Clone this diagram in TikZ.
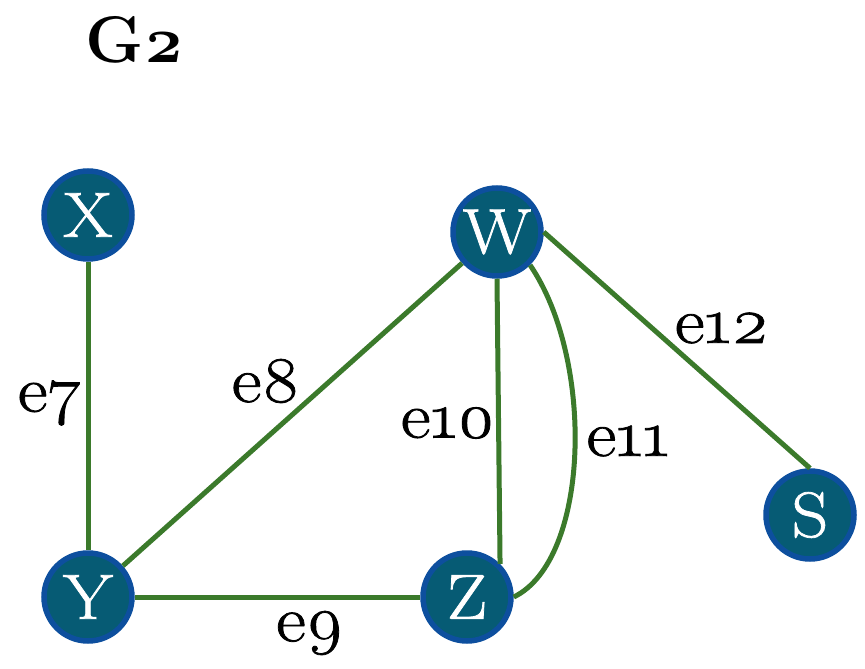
\documentclass[tikz,border=0pt]{standalone}
\usepackage{fontspec}
\setmainfont[Numbers=OldStyle]{Latin Modern Roman}
\newfontfamily\heavyfont[Numbers=OldStyle,FakeBold=1.2,FakeStretch=1.12]{Latin Modern Roman}
\definecolor{vfill}{HTML}{065B74}
\definecolor{vedge}{HTML}{0D4F9E}
\definecolor{link}{HTML}{3B7A2B}
\begin{document}
\begin{tikzpicture}[x=1pt,y=-1pt,
  vertex/.style={circle,draw=vedge,fill=vfill,line width=5.5pt,minimum size=88pt,inner sep=0pt,
    text=white,font=\heavyfont\fontsize{64}{64}\selectfont},
  edge/.style={draw=link,line width=5pt},
  elabel/.style={font=\heavyfont\fontsize{65}{65}\selectfont,inner sep=0pt}]
\useasboundingbox (0,0) rectangle (865,669);
% vertices
\node[vertex] (X) at (88,215) {X};
\node[vertex] (W) at (497,232) {W};
\node[vertex] (S) at (810,515) {S};
\node[vertex] (Y) at (88,597) {Y};
\node[vertex] (Z) at (467,597) {Z};
% edges
\draw[edge] (X) -- (Y);
\draw[edge] (Y) -- (W);
\draw[edge] (Y) -- (Z);
\draw[edge] (W.south) -- (Z.north east);
\draw[edge] (W.south east) .. controls (595,360) and (590,560) .. (Z.east);
\draw[edge] (W.east) -- (S.north);
% edge labels
\node[elabel] (l7) at (50,403) {e7};
\node[elabel] (l8) at (266,381) {e8};
\node[elabel] (l9) at (310,633) {e9};
\node[elabel] (l10) at (448,423) {e10};
\node[elabel] (l11) at (628,441) {e11};
\node[elabel] (l12) at (722,328) {e12};
% title
\node[font=\fontsize{66}{66}\selectfont\bfseries] (title) at (135,40) {G2};
\end{tikzpicture}
\end{document}
